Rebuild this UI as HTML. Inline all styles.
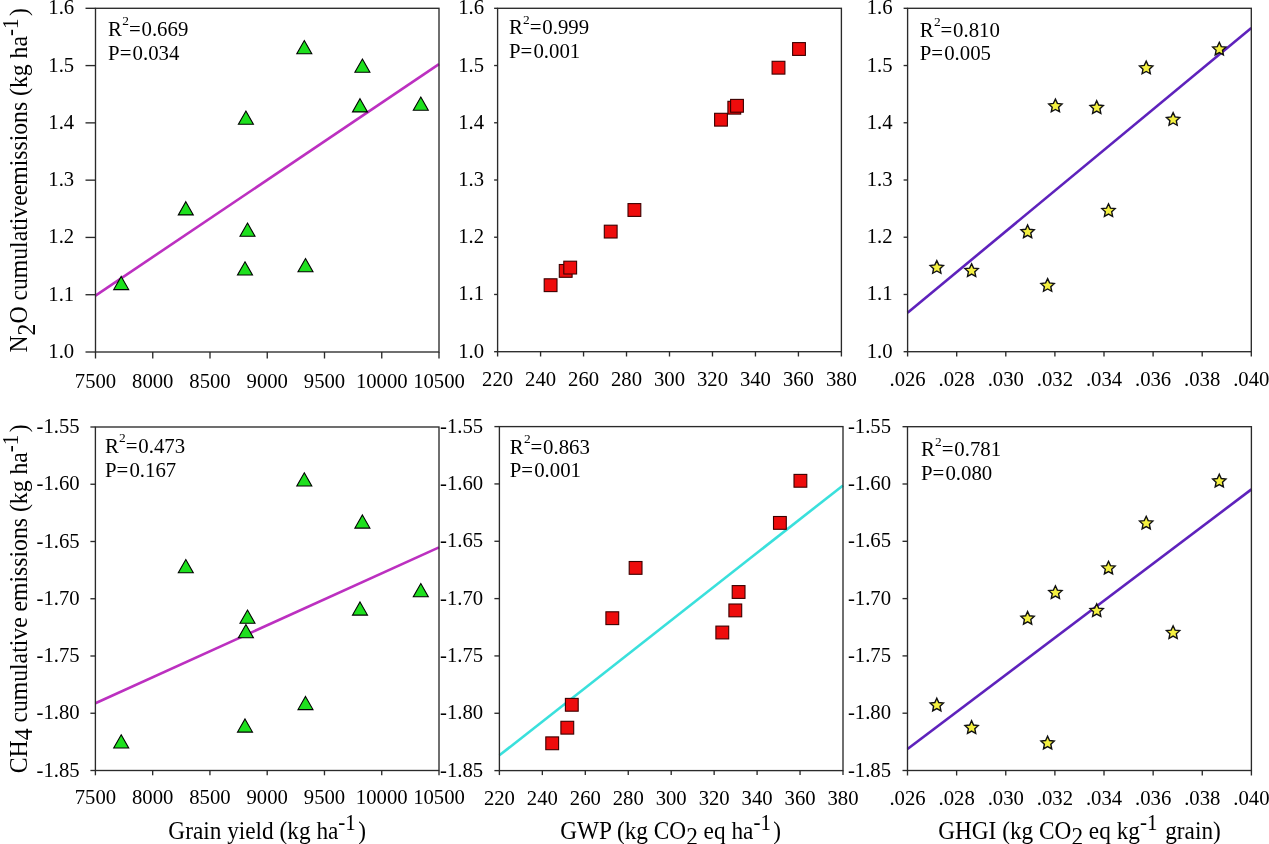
<!DOCTYPE html><html><head><meta charset="utf-8"><style>html,body{margin:0;padding:0;background:#fff;}svg{display:block;will-change:transform}</style></head><body>
<svg width="1269" height="844" viewBox="0 0 1269 844" font-family="'Liberation Serif', serif" fill="#000">
<rect width="1269" height="844" fill="#fff"/>
<line x1="95.5" y1="295.6" x2="439" y2="64.2" stroke="#bc30c0" stroke-width="2.6"/>
<path d="M121.2 276.4L128.7 289.6L113.7 289.6Z" fill="#1ee01e" stroke="#000" stroke-width="1.1" stroke-linejoin="miter"/>
<path d="M185.8 201.7L193.3 214.9L178.3 214.9Z" fill="#1ee01e" stroke="#000" stroke-width="1.1" stroke-linejoin="miter"/>
<path d="M245.9 111L253.4 124.2L238.4 124.2Z" fill="#1ee01e" stroke="#000" stroke-width="1.1" stroke-linejoin="miter"/>
<path d="M247.5 223L255 236.2L240 236.2Z" fill="#1ee01e" stroke="#000" stroke-width="1.1" stroke-linejoin="miter"/>
<path d="M245 261.8L252.5 275L237.5 275Z" fill="#1ee01e" stroke="#000" stroke-width="1.1" stroke-linejoin="miter"/>
<path d="M304.3 40.6L311.8 53.8L296.8 53.8Z" fill="#1ee01e" stroke="#000" stroke-width="1.1" stroke-linejoin="miter"/>
<path d="M305.5 258.6L313 271.8L298 271.8Z" fill="#1ee01e" stroke="#000" stroke-width="1.1" stroke-linejoin="miter"/>
<path d="M362.4 59L369.9 72.2L354.9 72.2Z" fill="#1ee01e" stroke="#000" stroke-width="1.1" stroke-linejoin="miter"/>
<path d="M360 98.7L367.5 111.9L352.5 111.9Z" fill="#1ee01e" stroke="#000" stroke-width="1.1" stroke-linejoin="miter"/>
<path d="M420.8 97.1L428.3 110.3L413.3 110.3Z" fill="#1ee01e" stroke="#000" stroke-width="1.1" stroke-linejoin="miter"/>
<rect x="95.5" y="8.3" width="343.5" height="343.7" fill="none" stroke="#2a2a2a" stroke-width="1.35"/>
<line x1="95.5" y1="352" x2="95.5" y2="358.5" stroke="#2a2a2a" stroke-width="1.35"/>
<text x="95.5" y="387.5" font-size="20.7" text-anchor="middle">7500</text>
<line x1="152.75" y1="352" x2="152.75" y2="358.5" stroke="#2a2a2a" stroke-width="1.35"/>
<text x="152.75" y="387.5" font-size="20.7" text-anchor="middle">8000</text>
<line x1="210" y1="352" x2="210" y2="358.5" stroke="#2a2a2a" stroke-width="1.35"/>
<text x="210" y="387.5" font-size="20.7" text-anchor="middle">8500</text>
<line x1="267.25" y1="352" x2="267.25" y2="358.5" stroke="#2a2a2a" stroke-width="1.35"/>
<text x="267.25" y="387.5" font-size="20.7" text-anchor="middle">9000</text>
<line x1="324.5" y1="352" x2="324.5" y2="358.5" stroke="#2a2a2a" stroke-width="1.35"/>
<text x="324.5" y="387.5" font-size="20.7" text-anchor="middle">9500</text>
<line x1="381.75" y1="352" x2="381.75" y2="358.5" stroke="#2a2a2a" stroke-width="1.35"/>
<text x="381.75" y="387.5" font-size="20.7" text-anchor="middle">10000</text>
<line x1="439" y1="352" x2="439" y2="358.5" stroke="#2a2a2a" stroke-width="1.35"/>
<text x="439" y="387.5" font-size="20.7" text-anchor="middle">10500</text>
<line x1="85.5" y1="352" x2="95.5" y2="352" stroke="#2a2a2a" stroke-width="1.35"/>
<text x="74.2" y="358" font-size="20.7" text-anchor="end">1.0</text>
<line x1="85.5" y1="294.72" x2="95.5" y2="294.72" stroke="#2a2a2a" stroke-width="1.35"/>
<text x="74.2" y="300.72" font-size="20.7" text-anchor="end">1.1</text>
<line x1="85.5" y1="237.43" x2="95.5" y2="237.43" stroke="#2a2a2a" stroke-width="1.35"/>
<text x="74.2" y="243.43" font-size="20.7" text-anchor="end">1.2</text>
<line x1="85.5" y1="180.15" x2="95.5" y2="180.15" stroke="#2a2a2a" stroke-width="1.35"/>
<text x="74.2" y="186.15" font-size="20.7" text-anchor="end">1.3</text>
<line x1="85.5" y1="122.87" x2="95.5" y2="122.87" stroke="#2a2a2a" stroke-width="1.35"/>
<text x="74.2" y="128.87" font-size="20.7" text-anchor="end">1.4</text>
<line x1="85.5" y1="65.58" x2="95.5" y2="65.58" stroke="#2a2a2a" stroke-width="1.35"/>
<text x="74.2" y="71.58" font-size="20.7" text-anchor="end">1.5</text>
<line x1="85.5" y1="8.3" x2="95.5" y2="8.3" stroke="#2a2a2a" stroke-width="1.35"/>
<text x="74.2" y="14.3" font-size="20.7" text-anchor="end">1.6</text>
<text x="108.1" y="36" font-size="20.8">R<tspan font-size="13.4" dy="-10.6" dx="0.3">2</tspan><tspan dy="10.6">=</tspan><tspan dx="0.8">0.669</tspan></text>
<text x="108.1" y="60" font-size="20.8">P=<tspan dx="1.2">0.034</tspan></text>
<rect x="544.2" y="278.8" width="12.8" height="12.8" fill="#ee0c0c" stroke="#3a0000" stroke-width="1.1"/>
<rect x="559.3" y="264.5" width="12.8" height="12.8" fill="#ee0c0c" stroke="#3a0000" stroke-width="1.1"/>
<rect x="563.8" y="261.2" width="12.8" height="12.8" fill="#ee0c0c" stroke="#3a0000" stroke-width="1.1"/>
<rect x="604.3" y="225.2" width="12.8" height="12.8" fill="#ee0c0c" stroke="#3a0000" stroke-width="1.1"/>
<rect x="628" y="203.6" width="12.8" height="12.8" fill="#ee0c0c" stroke="#3a0000" stroke-width="1.1"/>
<rect x="714.6" y="113.3" width="12.8" height="12.8" fill="#ee0c0c" stroke="#3a0000" stroke-width="1.1"/>
<rect x="727.9" y="101.3" width="12.8" height="12.8" fill="#ee0c0c" stroke="#3a0000" stroke-width="1.1"/>
<rect x="730.6" y="99.4" width="12.8" height="12.8" fill="#ee0c0c" stroke="#3a0000" stroke-width="1.1"/>
<rect x="772.1" y="61.3" width="12.8" height="12.8" fill="#ee0c0c" stroke="#3a0000" stroke-width="1.1"/>
<rect x="792.6" y="42.6" width="12.8" height="12.8" fill="#ee0c0c" stroke="#3a0000" stroke-width="1.1"/>
<rect x="497.6" y="8.3" width="343.8" height="343.4" fill="none" stroke="#2a2a2a" stroke-width="1.35"/>
<line x1="497.6" y1="351.7" x2="497.6" y2="356.5" stroke="#2a2a2a" stroke-width="1.35"/>
<text x="497.6" y="386" font-size="20.7" text-anchor="middle">220</text>
<line x1="540.58" y1="351.7" x2="540.58" y2="356.5" stroke="#2a2a2a" stroke-width="1.35"/>
<text x="540.58" y="386" font-size="20.7" text-anchor="middle">240</text>
<line x1="583.55" y1="351.7" x2="583.55" y2="356.5" stroke="#2a2a2a" stroke-width="1.35"/>
<text x="583.55" y="386" font-size="20.7" text-anchor="middle">260</text>
<line x1="626.52" y1="351.7" x2="626.52" y2="356.5" stroke="#2a2a2a" stroke-width="1.35"/>
<text x="626.52" y="386" font-size="20.7" text-anchor="middle">280</text>
<line x1="669.5" y1="351.7" x2="669.5" y2="356.5" stroke="#2a2a2a" stroke-width="1.35"/>
<text x="669.5" y="386" font-size="20.7" text-anchor="middle">300</text>
<line x1="712.48" y1="351.7" x2="712.48" y2="356.5" stroke="#2a2a2a" stroke-width="1.35"/>
<text x="712.48" y="386" font-size="20.7" text-anchor="middle">320</text>
<line x1="755.45" y1="351.7" x2="755.45" y2="356.5" stroke="#2a2a2a" stroke-width="1.35"/>
<text x="755.45" y="386" font-size="20.7" text-anchor="middle">340</text>
<line x1="798.42" y1="351.7" x2="798.42" y2="356.5" stroke="#2a2a2a" stroke-width="1.35"/>
<text x="798.42" y="386" font-size="20.7" text-anchor="middle">360</text>
<line x1="841.4" y1="351.7" x2="841.4" y2="356.5" stroke="#2a2a2a" stroke-width="1.35"/>
<text x="841.4" y="386" font-size="20.7" text-anchor="middle">380</text>
<line x1="494.1" y1="351.7" x2="497.6" y2="351.7" stroke="#2a2a2a" stroke-width="1.35"/>
<text x="484.1" y="357.7" font-size="20.7" text-anchor="end">1.0</text>
<line x1="494.1" y1="294.47" x2="497.6" y2="294.47" stroke="#2a2a2a" stroke-width="1.35"/>
<text x="484.1" y="300.47" font-size="20.7" text-anchor="end">1.1</text>
<line x1="494.1" y1="237.23" x2="497.6" y2="237.23" stroke="#2a2a2a" stroke-width="1.35"/>
<text x="484.1" y="243.23" font-size="20.7" text-anchor="end">1.2</text>
<line x1="494.1" y1="180" x2="497.6" y2="180" stroke="#2a2a2a" stroke-width="1.35"/>
<text x="484.1" y="186" font-size="20.7" text-anchor="end">1.3</text>
<line x1="494.1" y1="122.77" x2="497.6" y2="122.77" stroke="#2a2a2a" stroke-width="1.35"/>
<text x="484.1" y="128.77" font-size="20.7" text-anchor="end">1.4</text>
<line x1="494.1" y1="65.53" x2="497.6" y2="65.53" stroke="#2a2a2a" stroke-width="1.35"/>
<text x="484.1" y="71.53" font-size="20.7" text-anchor="end">1.5</text>
<line x1="494.1" y1="8.3" x2="497.6" y2="8.3" stroke="#2a2a2a" stroke-width="1.35"/>
<text x="484.1" y="14.3" font-size="20.7" text-anchor="end">1.6</text>
<text x="508.9" y="34.4" font-size="20.8">R<tspan font-size="13.4" dy="-10.6" dx="0.3">2</tspan><tspan dy="10.6">=</tspan><tspan dx="0.8">0.999</tspan></text>
<text x="508.9" y="58.4" font-size="20.8">P=<tspan dx="1.2">0.001</tspan></text>
<line x1="907.6" y1="312.7" x2="1251.3" y2="28" stroke="#5e22bc" stroke-width="2.6"/>
<path d="M936.8 260.6L938.77 264.88L943.46 265.44L940 268.64L940.91 273.26L936.8 270.96L932.69 273.26L933.6 268.64L930.14 265.44L934.83 264.88Z" fill="#f4f040" stroke="#111" stroke-width="1.4" stroke-linejoin="miter"/>
<path d="M971.6 263.8L973.57 268.08L978.26 268.64L974.8 271.84L975.71 276.46L971.6 274.16L967.49 276.46L968.4 271.84L964.94 268.64L969.63 268.08Z" fill="#f4f040" stroke="#111" stroke-width="1.4" stroke-linejoin="miter"/>
<path d="M1027.6 225L1029.57 229.28L1034.26 229.84L1030.8 233.04L1031.71 237.66L1027.6 235.36L1023.49 237.66L1024.4 233.04L1020.94 229.84L1025.63 229.28Z" fill="#f4f040" stroke="#111" stroke-width="1.4" stroke-linejoin="miter"/>
<path d="M1047.6 278.6L1049.57 282.88L1054.26 283.44L1050.8 286.64L1051.71 291.26L1047.6 288.96L1043.49 291.26L1044.4 286.64L1040.94 283.44L1045.63 282.88Z" fill="#f4f040" stroke="#111" stroke-width="1.4" stroke-linejoin="miter"/>
<path d="M1055.4 99.1L1057.37 103.38L1062.06 103.94L1058.6 107.14L1059.51 111.76L1055.4 109.46L1051.29 111.76L1052.2 107.14L1048.74 103.94L1053.43 103.38Z" fill="#f4f040" stroke="#111" stroke-width="1.4" stroke-linejoin="miter"/>
<path d="M1096.7 100.7L1098.67 104.98L1103.36 105.54L1099.9 108.74L1100.81 113.36L1096.7 111.06L1092.59 113.36L1093.5 108.74L1090.04 105.54L1094.73 104.98Z" fill="#f4f040" stroke="#111" stroke-width="1.4" stroke-linejoin="miter"/>
<path d="M1108.5 203.8L1110.47 208.08L1115.16 208.64L1111.7 211.84L1112.61 216.46L1108.5 214.16L1104.39 216.46L1105.3 211.84L1101.84 208.64L1106.53 208.08Z" fill="#f4f040" stroke="#111" stroke-width="1.4" stroke-linejoin="miter"/>
<path d="M1146.2 61.1L1148.17 65.38L1152.86 65.94L1149.4 69.14L1150.31 73.76L1146.2 71.46L1142.09 73.76L1143 69.14L1139.54 65.94L1144.23 65.38Z" fill="#f4f040" stroke="#111" stroke-width="1.4" stroke-linejoin="miter"/>
<path d="M1173.1 112.6L1175.07 116.88L1179.76 117.44L1176.3 120.64L1177.21 125.26L1173.1 122.96L1168.99 125.26L1169.9 120.64L1166.44 117.44L1171.13 116.88Z" fill="#f4f040" stroke="#111" stroke-width="1.4" stroke-linejoin="miter"/>
<path d="M1219.3 42.3L1221.27 46.58L1225.96 47.14L1222.5 50.34L1223.41 54.96L1219.3 52.66L1215.19 54.96L1216.1 50.34L1212.64 47.14L1217.33 46.58Z" fill="#f4f040" stroke="#111" stroke-width="1.4" stroke-linejoin="miter"/>
<rect x="907.6" y="8.3" width="343.7" height="343.4" fill="none" stroke="#2a2a2a" stroke-width="1.35"/>
<line x1="907.6" y1="351.7" x2="907.6" y2="356.5" stroke="#2a2a2a" stroke-width="1.35"/>
<text x="907.6" y="385.8" font-size="20.7" text-anchor="middle">.026</text>
<line x1="956.7" y1="351.7" x2="956.7" y2="356.5" stroke="#2a2a2a" stroke-width="1.35"/>
<text x="956.7" y="385.8" font-size="20.7" text-anchor="middle">.028</text>
<line x1="1005.8" y1="351.7" x2="1005.8" y2="356.5" stroke="#2a2a2a" stroke-width="1.35"/>
<text x="1005.8" y="385.8" font-size="20.7" text-anchor="middle">.030</text>
<line x1="1054.9" y1="351.7" x2="1054.9" y2="356.5" stroke="#2a2a2a" stroke-width="1.35"/>
<text x="1054.9" y="385.8" font-size="20.7" text-anchor="middle">.032</text>
<line x1="1104" y1="351.7" x2="1104" y2="356.5" stroke="#2a2a2a" stroke-width="1.35"/>
<text x="1104" y="385.8" font-size="20.7" text-anchor="middle">.034</text>
<line x1="1153.1" y1="351.7" x2="1153.1" y2="356.5" stroke="#2a2a2a" stroke-width="1.35"/>
<text x="1153.1" y="385.8" font-size="20.7" text-anchor="middle">.036</text>
<line x1="1202.2" y1="351.7" x2="1202.2" y2="356.5" stroke="#2a2a2a" stroke-width="1.35"/>
<text x="1202.2" y="385.8" font-size="20.7" text-anchor="middle">.038</text>
<line x1="1251.3" y1="351.7" x2="1251.3" y2="356.5" stroke="#2a2a2a" stroke-width="1.35"/>
<text x="1251.3" y="385.8" font-size="20.7" text-anchor="middle">.040</text>
<line x1="903.6" y1="351.7" x2="907.6" y2="351.7" stroke="#2a2a2a" stroke-width="1.35"/>
<text x="892.5" y="357.7" font-size="20.7" text-anchor="end">1.0</text>
<line x1="903.6" y1="294.47" x2="907.6" y2="294.47" stroke="#2a2a2a" stroke-width="1.35"/>
<text x="892.5" y="300.47" font-size="20.7" text-anchor="end">1.1</text>
<line x1="903.6" y1="237.23" x2="907.6" y2="237.23" stroke="#2a2a2a" stroke-width="1.35"/>
<text x="892.5" y="243.23" font-size="20.7" text-anchor="end">1.2</text>
<line x1="903.6" y1="180" x2="907.6" y2="180" stroke="#2a2a2a" stroke-width="1.35"/>
<text x="892.5" y="186" font-size="20.7" text-anchor="end">1.3</text>
<line x1="903.6" y1="122.77" x2="907.6" y2="122.77" stroke="#2a2a2a" stroke-width="1.35"/>
<text x="892.5" y="128.77" font-size="20.7" text-anchor="end">1.4</text>
<line x1="903.6" y1="65.53" x2="907.6" y2="65.53" stroke="#2a2a2a" stroke-width="1.35"/>
<text x="892.5" y="71.53" font-size="20.7" text-anchor="end">1.5</text>
<line x1="903.6" y1="8.3" x2="907.6" y2="8.3" stroke="#2a2a2a" stroke-width="1.35"/>
<text x="892.5" y="14.3" font-size="20.7" text-anchor="end">1.6</text>
<text x="919.7" y="36.8" font-size="20.8">R<tspan font-size="13.4" dy="-10.6" dx="0.3">2</tspan><tspan dy="10.6">=</tspan><tspan dx="0.8">0.810</tspan></text>
<text x="919.7" y="60.4" font-size="20.8">P=<tspan dx="1.2">0.005</tspan></text>
<line x1="95.4" y1="703.2" x2="439" y2="547.4" stroke="#bc30c0" stroke-width="2.6"/>
<path d="M121.2 734.8L128.7 748L113.7 748Z" fill="#1ee01e" stroke="#000" stroke-width="1.1" stroke-linejoin="miter"/>
<path d="M185.8 559.6L193.3 572.8L178.3 572.8Z" fill="#1ee01e" stroke="#000" stroke-width="1.1" stroke-linejoin="miter"/>
<path d="M247.5 610.1L255 623.3L240 623.3Z" fill="#1ee01e" stroke="#000" stroke-width="1.1" stroke-linejoin="miter"/>
<path d="M245.9 624.6L253.4 637.8L238.4 637.8Z" fill="#1ee01e" stroke="#000" stroke-width="1.1" stroke-linejoin="miter"/>
<path d="M245 718.9L252.5 732.1L237.5 732.1Z" fill="#1ee01e" stroke="#000" stroke-width="1.1" stroke-linejoin="miter"/>
<path d="M304.3 472.8L311.8 486L296.8 486Z" fill="#1ee01e" stroke="#000" stroke-width="1.1" stroke-linejoin="miter"/>
<path d="M305.5 696.4L313 709.6L298 709.6Z" fill="#1ee01e" stroke="#000" stroke-width="1.1" stroke-linejoin="miter"/>
<path d="M362.4 514.9L369.9 528.1L354.9 528.1Z" fill="#1ee01e" stroke="#000" stroke-width="1.1" stroke-linejoin="miter"/>
<path d="M360 601.9L367.5 615.1L352.5 615.1Z" fill="#1ee01e" stroke="#000" stroke-width="1.1" stroke-linejoin="miter"/>
<path d="M420.8 583.5L428.3 596.7L413.3 596.7Z" fill="#1ee01e" stroke="#000" stroke-width="1.1" stroke-linejoin="miter"/>
<rect x="95.4" y="427" width="343.6" height="343.5" fill="none" stroke="#2a2a2a" stroke-width="1.35"/>
<line x1="95.4" y1="770.5" x2="95.4" y2="775.3" stroke="#2a2a2a" stroke-width="1.35"/>
<text x="95.4" y="804.3" font-size="20.7" text-anchor="middle">7500</text>
<line x1="152.67" y1="770.5" x2="152.67" y2="775.3" stroke="#2a2a2a" stroke-width="1.35"/>
<text x="152.67" y="804.3" font-size="20.7" text-anchor="middle">8000</text>
<line x1="209.93" y1="770.5" x2="209.93" y2="775.3" stroke="#2a2a2a" stroke-width="1.35"/>
<text x="209.93" y="804.3" font-size="20.7" text-anchor="middle">8500</text>
<line x1="267.2" y1="770.5" x2="267.2" y2="775.3" stroke="#2a2a2a" stroke-width="1.35"/>
<text x="267.2" y="804.3" font-size="20.7" text-anchor="middle">9000</text>
<line x1="324.47" y1="770.5" x2="324.47" y2="775.3" stroke="#2a2a2a" stroke-width="1.35"/>
<text x="324.47" y="804.3" font-size="20.7" text-anchor="middle">9500</text>
<line x1="381.73" y1="770.5" x2="381.73" y2="775.3" stroke="#2a2a2a" stroke-width="1.35"/>
<text x="381.73" y="804.3" font-size="20.7" text-anchor="middle">10000</text>
<line x1="439" y1="770.5" x2="439" y2="775.3" stroke="#2a2a2a" stroke-width="1.35"/>
<text x="439" y="804.3" font-size="20.7" text-anchor="middle">10500</text>
<line x1="90.4" y1="770.5" x2="95.4" y2="770.5" stroke="#2a2a2a" stroke-width="1.35"/>
<text x="79.7" y="776.5" font-size="20.7" text-anchor="end">-1.85</text>
<line x1="90.4" y1="713.25" x2="95.4" y2="713.25" stroke="#2a2a2a" stroke-width="1.35"/>
<text x="79.7" y="719.25" font-size="20.7" text-anchor="end">-1.80</text>
<line x1="90.4" y1="656" x2="95.4" y2="656" stroke="#2a2a2a" stroke-width="1.35"/>
<text x="79.7" y="662" font-size="20.7" text-anchor="end">-1.75</text>
<line x1="90.4" y1="598.75" x2="95.4" y2="598.75" stroke="#2a2a2a" stroke-width="1.35"/>
<text x="79.7" y="604.75" font-size="20.7" text-anchor="end">-1.70</text>
<line x1="90.4" y1="541.5" x2="95.4" y2="541.5" stroke="#2a2a2a" stroke-width="1.35"/>
<text x="79.7" y="547.5" font-size="20.7" text-anchor="end">-1.65</text>
<line x1="90.4" y1="484.25" x2="95.4" y2="484.25" stroke="#2a2a2a" stroke-width="1.35"/>
<text x="79.7" y="490.25" font-size="20.7" text-anchor="end">-1.60</text>
<line x1="90.4" y1="427" x2="95.4" y2="427" stroke="#2a2a2a" stroke-width="1.35"/>
<text x="79.7" y="433" font-size="20.7" text-anchor="end">-1.55</text>
<text x="104.9" y="452.6" font-size="20.8">R<tspan font-size="13.4" dy="-10.6" dx="0.3">2</tspan><tspan dy="10.6">=</tspan><tspan dx="0.8">0.473</tspan></text>
<text x="104.9" y="476.6" font-size="20.8">P=<tspan dx="1.2">0.167</tspan></text>
<line x1="499.4" y1="755.3" x2="843" y2="485.4" stroke="#3ae0dc" stroke-width="2.6"/>
<rect x="545.8" y="736.9" width="12.8" height="12.8" fill="#ee0c0c" stroke="#3a0000" stroke-width="1.1"/>
<rect x="560.9" y="721.3" width="12.8" height="12.8" fill="#ee0c0c" stroke="#3a0000" stroke-width="1.1"/>
<rect x="565.4" y="698.4" width="12.8" height="12.8" fill="#ee0c0c" stroke="#3a0000" stroke-width="1.1"/>
<rect x="605.9" y="611.8" width="12.8" height="12.8" fill="#ee0c0c" stroke="#3a0000" stroke-width="1.1"/>
<rect x="629.2" y="561.5" width="12.8" height="12.8" fill="#ee0c0c" stroke="#3a0000" stroke-width="1.1"/>
<rect x="715.9" y="626.1" width="12.8" height="12.8" fill="#ee0c0c" stroke="#3a0000" stroke-width="1.1"/>
<rect x="728.9" y="604" width="12.8" height="12.8" fill="#ee0c0c" stroke="#3a0000" stroke-width="1.1"/>
<rect x="732.2" y="585.6" width="12.8" height="12.8" fill="#ee0c0c" stroke="#3a0000" stroke-width="1.1"/>
<rect x="773.5" y="516.5" width="12.8" height="12.8" fill="#ee0c0c" stroke="#3a0000" stroke-width="1.1"/>
<rect x="794" y="474.4" width="12.8" height="12.8" fill="#ee0c0c" stroke="#3a0000" stroke-width="1.1"/>
<rect x="499.4" y="426.6" width="343.6" height="344" fill="none" stroke="#2a2a2a" stroke-width="1.35"/>
<line x1="499.4" y1="770.6" x2="499.4" y2="775.1" stroke="#2a2a2a" stroke-width="1.35"/>
<text x="499.4" y="804.5" font-size="20.7" text-anchor="middle">220</text>
<line x1="542.35" y1="770.6" x2="542.35" y2="775.1" stroke="#2a2a2a" stroke-width="1.35"/>
<text x="542.35" y="804.5" font-size="20.7" text-anchor="middle">240</text>
<line x1="585.3" y1="770.6" x2="585.3" y2="775.1" stroke="#2a2a2a" stroke-width="1.35"/>
<text x="585.3" y="804.5" font-size="20.7" text-anchor="middle">260</text>
<line x1="628.25" y1="770.6" x2="628.25" y2="775.1" stroke="#2a2a2a" stroke-width="1.35"/>
<text x="628.25" y="804.5" font-size="20.7" text-anchor="middle">280</text>
<line x1="671.2" y1="770.6" x2="671.2" y2="775.1" stroke="#2a2a2a" stroke-width="1.35"/>
<text x="671.2" y="804.5" font-size="20.7" text-anchor="middle">300</text>
<line x1="714.15" y1="770.6" x2="714.15" y2="775.1" stroke="#2a2a2a" stroke-width="1.35"/>
<text x="714.15" y="804.5" font-size="20.7" text-anchor="middle">320</text>
<line x1="757.1" y1="770.6" x2="757.1" y2="775.1" stroke="#2a2a2a" stroke-width="1.35"/>
<text x="757.1" y="804.5" font-size="20.7" text-anchor="middle">340</text>
<line x1="800.05" y1="770.6" x2="800.05" y2="775.1" stroke="#2a2a2a" stroke-width="1.35"/>
<text x="800.05" y="804.5" font-size="20.7" text-anchor="middle">360</text>
<line x1="843" y1="770.6" x2="843" y2="775.1" stroke="#2a2a2a" stroke-width="1.35"/>
<text x="843" y="804.5" font-size="20.7" text-anchor="middle">380</text>
<line x1="494.4" y1="770.6" x2="499.4" y2="770.6" stroke="#2a2a2a" stroke-width="1.35"/>
<text x="483.2" y="776.6" font-size="20.7" text-anchor="end">-1.85</text>
<line x1="494.4" y1="713.27" x2="499.4" y2="713.27" stroke="#2a2a2a" stroke-width="1.35"/>
<text x="483.2" y="719.27" font-size="20.7" text-anchor="end">-1.80</text>
<line x1="494.4" y1="655.93" x2="499.4" y2="655.93" stroke="#2a2a2a" stroke-width="1.35"/>
<text x="483.2" y="661.93" font-size="20.7" text-anchor="end">-1.75</text>
<line x1="494.4" y1="598.6" x2="499.4" y2="598.6" stroke="#2a2a2a" stroke-width="1.35"/>
<text x="483.2" y="604.6" font-size="20.7" text-anchor="end">-1.70</text>
<line x1="494.4" y1="541.27" x2="499.4" y2="541.27" stroke="#2a2a2a" stroke-width="1.35"/>
<text x="483.2" y="547.27" font-size="20.7" text-anchor="end">-1.65</text>
<line x1="494.4" y1="483.93" x2="499.4" y2="483.93" stroke="#2a2a2a" stroke-width="1.35"/>
<text x="483.2" y="489.93" font-size="20.7" text-anchor="end">-1.60</text>
<line x1="494.4" y1="426.6" x2="499.4" y2="426.6" stroke="#2a2a2a" stroke-width="1.35"/>
<text x="483.2" y="432.6" font-size="20.7" text-anchor="end">-1.55</text>
<text x="509.7" y="453.8" font-size="20.8">R<tspan font-size="13.4" dy="-10.6" dx="0.3">2</tspan><tspan dy="10.6">=</tspan><tspan dx="0.8">0.863</tspan></text>
<text x="509.7" y="477.4" font-size="20.8">P=<tspan dx="1.2">0.001</tspan></text>
<line x1="907.5" y1="749" x2="1251.4" y2="489.4" stroke="#5e22bc" stroke-width="2.6"/>
<path d="M936.8 698.2L938.77 702.48L943.46 703.04L940 706.24L940.91 710.86L936.8 708.56L932.69 710.86L933.6 706.24L930.14 703.04L934.83 702.48Z" fill="#f4f040" stroke="#111" stroke-width="1.4" stroke-linejoin="miter"/>
<path d="M971.6 720.7L973.57 724.98L978.26 725.54L974.8 728.74L975.71 733.36L971.6 731.06L967.49 733.36L968.4 728.74L964.94 725.54L969.63 724.98Z" fill="#f4f040" stroke="#111" stroke-width="1.4" stroke-linejoin="miter"/>
<path d="M1027.6 611.5L1029.57 615.78L1034.26 616.34L1030.8 619.54L1031.71 624.16L1027.6 621.86L1023.49 624.16L1024.4 619.54L1020.94 616.34L1025.63 615.78Z" fill="#f4f040" stroke="#111" stroke-width="1.4" stroke-linejoin="miter"/>
<path d="M1047.6 736.2L1049.57 740.48L1054.26 741.04L1050.8 744.24L1051.71 748.86L1047.6 746.56L1043.49 748.86L1044.4 744.24L1040.94 741.04L1045.63 740.48Z" fill="#f4f040" stroke="#111" stroke-width="1.4" stroke-linejoin="miter"/>
<path d="M1055.4 585.8L1057.37 590.08L1062.06 590.64L1058.6 593.84L1059.51 598.46L1055.4 596.16L1051.29 598.46L1052.2 593.84L1048.74 590.64L1053.43 590.08Z" fill="#f4f040" stroke="#111" stroke-width="1.4" stroke-linejoin="miter"/>
<path d="M1096.7 603.8L1098.67 608.08L1103.36 608.64L1099.9 611.84L1100.81 616.46L1096.7 614.16L1092.59 616.46L1093.5 611.84L1090.04 608.64L1094.73 608.08Z" fill="#f4f040" stroke="#111" stroke-width="1.4" stroke-linejoin="miter"/>
<path d="M1108.5 561.3L1110.47 565.58L1115.16 566.14L1111.7 569.34L1112.61 573.96L1108.5 571.66L1104.39 573.96L1105.3 569.34L1101.84 566.14L1106.53 565.58Z" fill="#f4f040" stroke="#111" stroke-width="1.4" stroke-linejoin="miter"/>
<path d="M1146.2 516.3L1148.17 520.58L1152.86 521.14L1149.4 524.34L1150.31 528.96L1146.2 526.66L1142.09 528.96L1143 524.34L1139.54 521.14L1144.23 520.58Z" fill="#f4f040" stroke="#111" stroke-width="1.4" stroke-linejoin="miter"/>
<path d="M1173.1 625.8L1175.07 630.08L1179.76 630.64L1176.3 633.84L1177.21 638.46L1173.1 636.16L1168.99 638.46L1169.9 633.84L1166.44 630.64L1171.13 630.08Z" fill="#f4f040" stroke="#111" stroke-width="1.4" stroke-linejoin="miter"/>
<path d="M1219.3 474.2L1221.27 478.48L1225.96 479.04L1222.5 482.24L1223.41 486.86L1219.3 484.56L1215.19 486.86L1216.1 482.24L1212.64 479.04L1217.33 478.48Z" fill="#f4f040" stroke="#111" stroke-width="1.4" stroke-linejoin="miter"/>
<rect x="907.5" y="426.7" width="343.9" height="343.8" fill="none" stroke="#2a2a2a" stroke-width="1.35"/>
<line x1="907.5" y1="770.5" x2="907.5" y2="775.5" stroke="#2a2a2a" stroke-width="1.35"/>
<text x="907.5" y="804.5" font-size="20.7" text-anchor="middle">.026</text>
<line x1="956.63" y1="770.5" x2="956.63" y2="775.5" stroke="#2a2a2a" stroke-width="1.35"/>
<text x="956.63" y="804.5" font-size="20.7" text-anchor="middle">.028</text>
<line x1="1005.76" y1="770.5" x2="1005.76" y2="775.5" stroke="#2a2a2a" stroke-width="1.35"/>
<text x="1005.76" y="804.5" font-size="20.7" text-anchor="middle">.030</text>
<line x1="1054.89" y1="770.5" x2="1054.89" y2="775.5" stroke="#2a2a2a" stroke-width="1.35"/>
<text x="1054.89" y="804.5" font-size="20.7" text-anchor="middle">.032</text>
<line x1="1104.01" y1="770.5" x2="1104.01" y2="775.5" stroke="#2a2a2a" stroke-width="1.35"/>
<text x="1104.01" y="804.5" font-size="20.7" text-anchor="middle">.034</text>
<line x1="1153.14" y1="770.5" x2="1153.14" y2="775.5" stroke="#2a2a2a" stroke-width="1.35"/>
<text x="1153.14" y="804.5" font-size="20.7" text-anchor="middle">.036</text>
<line x1="1202.27" y1="770.5" x2="1202.27" y2="775.5" stroke="#2a2a2a" stroke-width="1.35"/>
<text x="1202.27" y="804.5" font-size="20.7" text-anchor="middle">.038</text>
<line x1="1251.4" y1="770.5" x2="1251.4" y2="775.5" stroke="#2a2a2a" stroke-width="1.35"/>
<text x="1251.4" y="804.5" font-size="20.7" text-anchor="middle">.040</text>
<line x1="902.5" y1="770.5" x2="907.5" y2="770.5" stroke="#2a2a2a" stroke-width="1.35"/>
<text x="891" y="776.5" font-size="20.7" text-anchor="end">-1.85</text>
<line x1="902.5" y1="713.2" x2="907.5" y2="713.2" stroke="#2a2a2a" stroke-width="1.35"/>
<text x="891" y="719.2" font-size="20.7" text-anchor="end">-1.80</text>
<line x1="902.5" y1="655.9" x2="907.5" y2="655.9" stroke="#2a2a2a" stroke-width="1.35"/>
<text x="891" y="661.9" font-size="20.7" text-anchor="end">-1.75</text>
<line x1="902.5" y1="598.6" x2="907.5" y2="598.6" stroke="#2a2a2a" stroke-width="1.35"/>
<text x="891" y="604.6" font-size="20.7" text-anchor="end">-1.70</text>
<line x1="902.5" y1="541.3" x2="907.5" y2="541.3" stroke="#2a2a2a" stroke-width="1.35"/>
<text x="891" y="547.3" font-size="20.7" text-anchor="end">-1.65</text>
<line x1="902.5" y1="484" x2="907.5" y2="484" stroke="#2a2a2a" stroke-width="1.35"/>
<text x="891" y="490" font-size="20.7" text-anchor="end">-1.60</text>
<line x1="902.5" y1="426.7" x2="907.5" y2="426.7" stroke="#2a2a2a" stroke-width="1.35"/>
<text x="891" y="432.7" font-size="20.7" text-anchor="end">-1.55</text>
<text x="920.9" y="456.2" font-size="20.8">R<tspan font-size="13.4" dy="-10.6" dx="0.3">2</tspan><tspan dy="10.6">=</tspan><tspan dx="0.8">0.781</tspan></text>
<text x="920.9" y="479.8" font-size="20.8">P=<tspan dx="1.2">0.080</tspan></text>
<text transform="translate(27.4 180.35) rotate(-90) scale(1 1.07)" font-size="23.7" text-anchor="middle">N<tspan dy="7">2</tspan><tspan dy="-7">O cumulativeemissions (kg ha</tspan><tspan font-size="21" dy="-9.2">-1</tspan><tspan dy="9.2" dx="2.5">)</tspan></text>
<text transform="translate(27.4 598.8) rotate(-90) scale(1 1.07)" font-size="23.7" text-anchor="middle">CH<tspan dy="4.6">4</tspan><tspan dy="-4.6"> cumulative emissions (kg ha</tspan><tspan font-size="21" dy="-9.2">-1</tspan><tspan dy="9.2" dx="2.5">)</tspan></text>
<text transform="translate(267.2 838.5) scale(1 1.07)" font-size="23.3" text-anchor="middle">Grain yield (kg ha<tspan font-size="21" dy="-7.8">-1</tspan><tspan dy="7.8" dx="2.5">)</tspan></text>
<text transform="translate(670.7 838.5) scale(1 1.07)" font-size="23.3" text-anchor="middle">GWP (kg CO<tspan dy="6.2">2</tspan><tspan dy="-6.2"> eq ha</tspan><tspan font-size="21" dy="-7.8">-1</tspan><tspan dy="7.8" dx="2.5">)</tspan></text>
<text transform="translate(1079.5 838.5) scale(1 1.07)" font-size="23.3" text-anchor="middle">GHGI (kg CO<tspan dy="6.2">2</tspan><tspan dy="-6.2"> eq kg</tspan><tspan font-size="21" dy="-7.8">-1</tspan><tspan dy="7.8" dx="2"> grain)</tspan></text>
</svg></body></html>
